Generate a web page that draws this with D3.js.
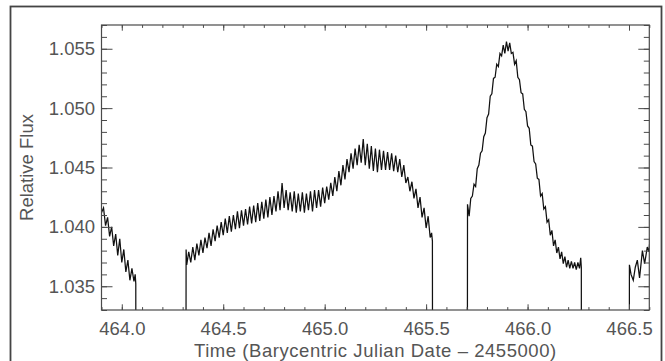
<!DOCTYPE html>
<html>
<head>
<meta charset="utf-8">
<script src="https://cdn.jsdelivr.net/npm/d3@7"></script>
<style>
  html, body { margin: 0; padding: 0; background: #fff; }
  svg { display: block; }
  text { font-family: "Liberation Sans", Arial, sans-serif; fill: #555; }
</style>
</head>
<body>
<svg id="chart" width="665" height="361"></svg>
<script>
// Light curve segments: [time (BJD - 2455000), relative flux]
const segment1 = [
  [463.890, 1.0424], [463.900, 1.0412], [463.910, 1.0416], [463.920, 1.0401],
  [463.930, 1.0408], [463.940, 1.0392], [463.950, 1.0400], [463.960, 1.0384],
  [463.970, 1.0394], [463.980, 1.0376], [463.990, 1.0390], [464.000, 1.0370],
  [464.010, 1.0381], [464.020, 1.0362], [464.030, 1.0372], [464.040, 1.0355],
  [464.050, 1.0365], [464.060, 1.0354], [464.066, 1.0360], [464.069, 1.0352]
];
const eclipse1 = [[464.071, 1.000], [464.315, 1.000]];
const segment2 = [
  [464.317, 1.0381], [464.320, 1.0368], [464.330, 1.0379], [464.340, 1.0370],
  [464.350, 1.0383], [464.360, 1.0372], [464.370, 1.0386], [464.380, 1.0376],
  [464.390, 1.0389], [464.400, 1.0378], [464.410, 1.0391], [464.420, 1.0382],
  [464.430, 1.0395], [464.440, 1.0384], [464.450, 1.0398], [464.460, 1.0388],
  [464.470, 1.0401], [464.480, 1.0391], [464.490, 1.0404], [464.500, 1.0393],
  [464.510, 1.0407], [464.520, 1.0395], [464.530, 1.0409], [464.540, 1.0396],
  [464.550, 1.0410], [464.560, 1.0398], [464.570, 1.0413], [464.580, 1.0399],
  [464.590, 1.0414], [464.600, 1.0401], [464.610, 1.0415], [464.620, 1.0402],
  [464.630, 1.0417], [464.640, 1.0403], [464.650, 1.0418], [464.660, 1.0404],
  [464.670, 1.0420], [464.680, 1.0405], [464.690, 1.0421], [464.700, 1.0407],
  [464.710, 1.0423], [464.720, 1.0408], [464.730, 1.0425], [464.740, 1.0410],
  [464.750, 1.0426], [464.760, 1.0413], [464.770, 1.0430], [464.780, 1.0414],
  [464.790, 1.0437], [464.800, 1.0416], [464.810, 1.0431], [464.820, 1.0414],
  [464.830, 1.0429], [464.840, 1.0413], [464.850, 1.0430], [464.860, 1.0412],
  [464.870, 1.0428], [464.880, 1.0413], [464.890, 1.0429], [464.900, 1.0412],
  [464.910, 1.0428], [464.920, 1.0414], [464.930, 1.0430], [464.940, 1.0413],
  [464.950, 1.0431], [464.960, 1.0416], [464.970, 1.0431], [464.980, 1.0417],
  [464.990, 1.0433], [465.000, 1.0420], [465.010, 1.0434], [465.020, 1.0423],
  [465.030, 1.0437], [465.040, 1.0426], [465.050, 1.0442], [465.060, 1.0430],
  [465.070, 1.0447], [465.080, 1.0435], [465.090, 1.0452], [465.100, 1.0440],
  [465.110, 1.0457], [465.120, 1.0446], [465.130, 1.0462], [465.140, 1.0449],
  [465.150, 1.0466], [465.160, 1.0452], [465.170, 1.0469], [465.180, 1.0454],
  [465.190, 1.0474], [465.200, 1.0452], [465.210, 1.0470], [465.220, 1.0449],
  [465.230, 1.0468], [465.240, 1.0447], [465.250, 1.0466], [465.260, 1.0446],
  [465.270, 1.0465], [465.280, 1.0448], [465.290, 1.0464], [465.300, 1.0448],
  [465.310, 1.0463], [465.320, 1.0448], [465.330, 1.0462], [465.340, 1.0447],
  [465.350, 1.0460], [465.360, 1.0446], [465.370, 1.0457], [465.380, 1.0442],
  [465.390, 1.0452], [465.400, 1.0437], [465.410, 1.0442], [465.420, 1.0430],
  [465.430, 1.0438], [465.440, 1.0424], [465.450, 1.0432], [465.460, 1.0416],
  [465.470, 1.0425], [465.480, 1.0408], [465.490, 1.0416], [465.500, 1.0399],
  [465.510, 1.0409], [465.520, 1.0391], [465.527, 1.0395], [465.531, 1.0388]
];
const eclipse2 = [[465.533, 1.000], [465.702, 1.000]];
const segment3 = [
  [465.704, 1.0419], [465.712, 1.0409], [465.720, 1.0424], [465.728, 1.0426],
  [465.736, 1.0436], [465.744, 1.0434], [465.752, 1.0449], [465.760, 1.0452],
  [465.768, 1.0462], [465.776, 1.0464], [465.784, 1.0476], [465.792, 1.0479],
  [465.800, 1.0492], [465.808, 1.0495], [465.816, 1.0510], [465.824, 1.0512],
  [465.832, 1.0525], [465.840, 1.0526], [465.848, 1.0537], [465.856, 1.0535],
  [465.864, 1.0546], [465.872, 1.0544], [465.880, 1.0553], [465.888, 1.0546],
  [465.896, 1.0556], [465.904, 1.0548], [465.912, 1.0555], [465.920, 1.0546],
  [465.928, 1.0547], [465.936, 1.0537], [465.944, 1.0540], [465.952, 1.0526],
  [465.960, 1.0524], [465.968, 1.0513], [465.976, 1.0512], [465.984, 1.0499],
  [465.992, 1.0497], [466.000, 1.0485], [466.008, 1.0483], [466.016, 1.0469],
  [466.024, 1.0468], [466.032, 1.0455], [466.040, 1.0453], [466.048, 1.0441],
  [466.056, 1.0440], [466.064, 1.0426], [466.072, 1.0428], [466.080, 1.0415],
  [466.088, 1.0417], [466.096, 1.0404], [466.104, 1.0406], [466.112, 1.0393],
  [466.120, 1.0397], [466.128, 1.0384], [466.136, 1.0389], [466.144, 1.0378],
  [466.152, 1.0383], [466.160, 1.0373], [466.168, 1.0379], [466.176, 1.0369],
  [466.184, 1.0375], [466.192, 1.0366], [466.200, 1.0372], [466.208, 1.0365],
  [466.216, 1.0371], [466.224, 1.0365], [466.232, 1.0370], [466.240, 1.0364],
  [466.248, 1.0370], [466.256, 1.0365], [466.262, 1.0374], [466.265, 1.0366]
];
const eclipse3 = [[466.266, 1.000], [466.501, 1.000]];
const segment4 = [
  [466.502, 1.0368], [466.510, 1.0360], [466.521, 1.0355], [466.531, 1.0366],
  [466.541, 1.0372], [466.552, 1.0357], [466.566, 1.0380], [466.577, 1.0369],
  [466.590, 1.0383], [466.598, 1.0379], [466.604, 1.0391], [466.610, 1.0386]
];

// Axis ticks
const xMajorTicks = [464.0, 464.5, 465.0, 465.5, 466.0, 466.5];
const xTickLabels = ["464.0", "464.5", "465.0", "465.5", "466.0", "466.5"];
const yMajorTicks = [1.035, 1.040, 1.045, 1.050, 1.055];
const yTickLabels = ["1.035", "1.040", "1.045", "1.050", "1.055"];
const xTitle = "Time (Barycentric Julian Date \u2013 2455000)";
const yTitle = "Relative Flux";

const lightCurve = [].concat(segment1, eclipse1, segment2, eclipse2, segment3, eclipse3, segment4);

const svg = d3.select("#chart");
const plotLeft = 101.5, plotRight = 649.3, plotTop = 25, plotBottom = 310;

const x = d3.scaleLinear().domain([463.9, 466.6]).range([plotLeft, plotRight]);
const y = d3.scaleLinear().domain([1.033, 1.057]).range([plotBottom, plotTop]);

// Outer frame
svg.append("rect")
  .attr("x", 10.5).attr("y", 6.5)
  .attr("width", 651).attr("height", 362)
  .attr("fill", "none").attr("stroke", "#444").attr("stroke-width", 1.8);

svg.append("clipPath").attr("id", "plot-clip")
  .append("rect")
  .attr("x", plotLeft).attr("y", plotTop)
  .attr("width", plotRight - plotLeft).attr("height", plotBottom - plotTop);

// Flux curve
svg.append("path")
  .datum(lightCurve)
  .attr("clip-path", "url(#plot-clip)")
  .attr("fill", "none")
  .attr("stroke", "#111")
  .attr("stroke-width", 1.25)
  .attr("stroke-linejoin", "miter")
  .attr("d", d3.line().x(d => x(d[0])).y(d => y(d[1])));

// Minor tick positions
const xMinor = d3.range(0, 28).map(i => +(463.9 + i * 0.1).toFixed(1)).filter(v => v <= 466.6);
const yMinor = d3.range(0, 25).map(i => +(1.033 + i * 0.001).toFixed(3));

const xLenMajor = 5.7, xLenMinor = 2.9, yLenMajor = 11, yLenMinor = 5.5;
const axisColor = "#4a4a4a";
const labelFont = '"Liberation Sans", Arial, sans-serif';
const labelSize = 18.5;

function styleAxis(g) {
  g.select(".domain").remove();
  g.selectAll("line").attr("stroke", axisColor).attr("stroke-width", 1);
}

// Bottom axis: minor ticks, then labelled major ticks
svg.append("g").attr("transform", `translate(0,${plotBottom})`)
  .call(d3.axisBottom(x).tickValues(xMinor).tickSize(-xLenMinor).tickFormat(""))
  .call(styleAxis);
const xb = svg.append("g").attr("transform", `translate(0,${plotBottom})`)
  .call(d3.axisBottom(x).tickValues(xMajorTicks).tickSize(-xLenMajor).tickPadding(12)
    .tickFormat((d, i) => xTickLabels[i]))
  .call(styleAxis);
xb.selectAll("text").attr("font-size", labelSize).attr("fill", "#555").attr("font-family", labelFont);

// Top axis (ticks only)
svg.append("g").attr("transform", `translate(0,${plotTop})`)
  .call(d3.axisTop(x).tickValues(xMinor).tickSize(-xLenMinor).tickFormat(""))
  .call(styleAxis);
svg.append("g").attr("transform", `translate(0,${plotTop})`)
  .call(d3.axisTop(x).tickValues(xMajorTicks).tickSize(-xLenMajor).tickFormat(""))
  .call(styleAxis);

// Left axis
svg.append("g").attr("transform", `translate(${plotLeft},0)`)
  .call(d3.axisLeft(y).tickValues(yMinor).tickSize(-yLenMinor).tickFormat(""))
  .call(styleAxis);
const yl = svg.append("g").attr("transform", `translate(${plotLeft},0)`)
  .call(d3.axisLeft(y).tickValues(yMajorTicks).tickSize(-yLenMajor).tickPadding(6.5)
    .tickFormat((d, i) => yTickLabels[i]))
  .call(styleAxis);
yl.selectAll("text").attr("font-size", labelSize).attr("fill", "#555").attr("font-family", labelFont);

// Right axis (ticks only)
svg.append("g").attr("transform", `translate(${plotRight},0)`)
  .call(d3.axisRight(y).tickValues(yMinor).tickSize(-yLenMinor).tickFormat(""))
  .call(styleAxis);
svg.append("g").attr("transform", `translate(${plotRight},0)`)
  .call(d3.axisRight(y).tickValues(yMajorTicks).tickSize(-yLenMajor).tickFormat(""))
  .call(styleAxis);

// Plot box
svg.append("rect")
  .attr("x", plotLeft).attr("y", plotTop)
  .attr("width", plotRight - plotLeft).attr("height", plotBottom - plotTop)
  .attr("fill", "none").attr("stroke", axisColor).attr("stroke-width", 1.2);

// Axis titles
svg.append("text")
  .attr("x", (plotLeft + plotRight) / 2).attr("y", 356.5)
  .attr("text-anchor", "middle").attr("font-size", labelSize)
  .attr("letter-spacing", 0.55)
  .text(xTitle);

svg.append("text")
  .attr("transform", `translate(33,${(plotTop + plotBottom) / 2}) rotate(-90)`)
  .attr("text-anchor", "middle").attr("font-size", labelSize)
  .text(yTitle);
</script>
</body>
</html>
